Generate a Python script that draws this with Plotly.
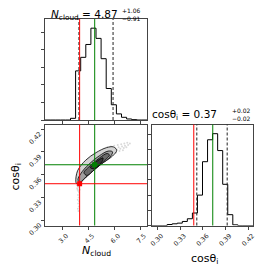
import numpy as np
import plotly.graph_objects as go

# ---------------- data ----------------
n_range = [2.0, 7.89]
c_range = [0.293, 0.426]
n_bins = 20
c_bins = 20
n_counts = [0, 0, 0, 0, 0, 48, 1402, 1789, 2156, 2621, 2330, 1750, 899, 435, 174, 77, 29, 10, 0, 0]
c_counts = [0, 0, 0, 33, 56, 78, 133, 222, 411, 1000, 2100, 2822, 3022, 2466, 1356, 356, 22, 0, 0, 0]

n_truth, n_med, n_lo, n_hi = 4.0, 4.87, 3.96, 5.93
c_truth, c_med, c_lo, c_hi = 0.348, 0.373, 0.352, 0.392

n_ticks = [3.0, 4.5, 6.0, 7.5]
n_ticktext = ["3.0", "4.5", "6.0", "7.5"]
c_ticks = [0.30, 0.33, 0.36, 0.39, 0.42]
c_ticktext = ["0.30", "0.33", "0.36", "0.39", "0.42"]

# density contours (outer -> inner)
cont1_x = [3.83, 3.78, 3.88, 4.35, 4.95, 5.55, 5.95, 6.14, 5.90, 5.20, 4.62, 4.15, 3.98]
cont1_y = [0.3480, 0.3505, 0.3650, 0.3790, 0.3890, 0.3955, 0.3965, 0.3920, 0.3845, 0.3730, 0.3620, 0.3515, 0.3475]
cont2_x = [3.90, 4.15, 4.65, 5.15, 5.65, 5.90, 5.75, 5.28, 4.78, 4.30, 4.02]
cont2_y = [0.3530, 0.3640, 0.3760, 0.3850, 0.3910, 0.3900, 0.3830, 0.3745, 0.3650, 0.3555, 0.3500]
cont3_x = [4.25, 4.65, 5.15, 5.58, 5.72, 5.40, 4.90, 4.42]
cont3_y = [0.3625, 0.3725, 0.3820, 0.3878, 0.3858, 0.3780, 0.3680, 0.3590]
cont4_x = [4.62, 5.05, 5.35, 5.30, 4.85]
cont4_y = [0.3690, 0.3785, 0.3820, 0.3775, 0.3680]
cont_fill = ["#d4d4d4", "#a0a0a0", "#6a6a6a", "#353535"]

# loose samples outside the outer contour
pts_x = [3.90, 3.95, 3.88, 3.93, 3.97, 3.91, 3.94, 3.89, 3.96, 3.92, 3.95, 3.90, 3.93, 3.86, 4.00, 3.84,
         6.05, 6.15, 6.25, 6.35, 6.45, 6.55, 6.62, 6.70, 6.80, 6.90, 6.20, 6.40, 6.10, 6.30, 6.50, 6.00,
         5.80, 5.60, 6.75, 6.58]
pts_y = [0.345, 0.343, 0.340, 0.338, 0.336, 0.333, 0.330, 0.327, 0.325, 0.322, 0.318, 0.315, 0.312, 0.342, 0.340, 0.346,
         0.395, 0.393, 0.396, 0.394, 0.397, 0.395, 0.398, 0.396, 0.399, 0.401, 0.399, 0.400, 0.389, 0.391, 0.392, 0.398,
         0.397, 0.396, 0.402, 0.401]

RED = "#ff0000"
GREEN = "#008000"
FRAME = "#444444"
FONT = "DejaVu Sans"
# the page body has an 8px margin, so the figure is sized to the visible area
OFF = 8
W, H = 266 - OFF, 272 - OFF


def px(v):
    return (v - OFF) / W


def py(v):
    return 1 - (v - OFF) / H


def step_xy(edges, counts):
    xs = [edges[0]] + list(edges)
    ys = [0] + list(counts) + [0]
    return xs, ys


fig = go.Figure()

# top-left histogram
n_edges = np.linspace(n_range[0], n_range[1], n_bins + 1)
sx, sy = step_xy(n_edges, n_counts)
fig.add_trace(go.Scatter(x=sx, y=sy, mode="lines", line=dict(color="black", width=1, shape="hv"),
                         xaxis="x", yaxis="y", showlegend=False, hoverinfo="skip"))
# bottom-right histogram
c_edges = np.linspace(c_range[0], c_range[1], c_bins + 1)
sx, sy = step_xy(c_edges, c_counts)
fig.add_trace(go.Scatter(x=sx, y=sy, mode="lines", line=dict(color="black", width=1, shape="hv"),
                         xaxis="x3", yaxis="y3", showlegend=False, hoverinfo="skip"))

# 2D: samples
fig.add_trace(go.Scatter(x=pts_x, y=pts_y, mode="markers",
                         marker=dict(color="rgba(0,0,0,0.15)", size=2),
                         xaxis="x2", yaxis="y2", showlegend=False, hoverinfo="skip"))
# 2D: contours
for cx, cy, col in zip([cont1_x, cont2_x, cont3_x, cont4_x], [cont1_y, cont2_y, cont3_y, cont4_y], cont_fill):
    fig.add_trace(go.Scatter(x=cx + [cx[0]], y=cy + [cy[0]], mode="lines", fill="toself",
                             fillcolor=col, line=dict(color="black", width=0.8, shape="spline"),
                             xaxis="x2", yaxis="y2", showlegend=False, hoverinfo="skip"))

DASH = "3px,2px"


def vline(x, xref, yref, color, dash="solid"):
    fig.add_shape(type="line", x0=x, x1=x, y0=0, y1=1, xref=xref, yref=yref + " domain",
                  line=dict(color=color, width=1, dash=dash))


def hline(y, xref, yref, color):
    fig.add_shape(type="line", y0=y, y1=y, x0=0, x1=1, yref=yref, xref=xref + " domain",
                  line=dict(color=color, width=1))


vline(n_lo, "x", "y", "#222222", DASH)
vline(n_hi, "x", "y", "#222222", DASH)
vline(n_truth, "x", "y", RED)
vline(n_med, "x", "y", GREEN)

vline(c_lo, "x3", "y3", "#222222", DASH)
vline(c_hi, "x3", "y3", "#222222", DASH)
vline(c_truth, "x3", "y3", RED)
vline(c_med, "x3", "y3", GREEN)

vline(n_truth, "x2", "y2", RED)
vline(n_med, "x2", "y2", GREEN)
hline(c_truth, "x2", "y2", RED)
hline(c_med, "x2", "y2", GREEN)

fig.add_trace(go.Scatter(x=[n_truth], y=[c_truth], mode="markers",
                         marker=dict(color=RED, size=5, symbol="square"),
                         xaxis="x2", yaxis="y2", showlegend=False, hoverinfo="skip"))
fig.add_trace(go.Scatter(x=[n_med], y=[c_med], mode="markers",
                         marker=dict(color=GREEN, size=5, symbol="square"),
                         xaxis="x2", yaxis="y2", showlegend=False, hoverinfo="skip"))

axis_common = dict(showline=True, linecolor=FRAME, linewidth=1, mirror=True, showgrid=False,
                   zeroline=False, ticks="outside", ticklen=3, tickwidth=1, tickcolor=FRAME,
                   automargin=False,
                   tickfont=dict(family=FONT, size=6.5, color="#222222"))

xl = [px(45), px(147)]
xr = [px(152), px(253)]
yt = [py(120), py(19)]
yb = [py(225.5), py(124.5)]

fig.update_layout(
    template="none",
    width=W, height=H, margin=dict(l=0, r=0, t=0, b=0, pad=0),
    paper_bgcolor="white", plot_bgcolor="white",
    xaxis=dict(domain=xl, range=n_range, anchor="y", tickvals=n_ticks, showticklabels=False, **axis_common),
    yaxis=dict(domain=yt, range=[0, max(n_counts) * 1.1], anchor="x", dtick=500, showticklabels=False, **axis_common),
    xaxis2=dict(domain=xl, range=n_range, anchor="y2", tickvals=n_ticks, ticktext=n_ticktext,
                tickangle=-45, ticklabelshift=4, **axis_common),
    yaxis2=dict(domain=yb, range=c_range, anchor="x2", tickvals=c_ticks, ticktext=c_ticktext,
                tickangle=-45, ticklabelshift=4, **axis_common),
    xaxis3=dict(domain=xr, range=c_range, anchor="y3", tickvals=c_ticks, ticktext=c_ticktext,
                tickangle=-45, ticklabelshift=4, **axis_common),
    yaxis3=dict(domain=yb, range=[0, max(c_counts) * 1.1], anchor="x3", dtick=500, showticklabels=False, **axis_common),
)


def ann(text, x, y, size, xanchor="center", yanchor="middle", angle=0):
    fig.add_annotation(text=text, x=x, y=y, xref="paper", yref="paper", showarrow=False,
                       xanchor=xanchor, yanchor=yanchor, textangle=angle,
                       font=dict(family=FONT, size=size, color="black"), borderpad=0)


# titles (top one kept inside the visible page area)
ann("<i>N</i><sub>cloud</sub> = 4.87", px(50), py(14.5), 10.5, xanchor="left")
ann("+1.06", px(121), py(11), 6, xanchor="left")
ann("−0.91", px(121), py(18.5), 6, xanchor="left")
ann("cosθ<sub>i</sub> = 0.37", px(151), py(115), 10.5, xanchor="left")
ann("+0.02", px(231), py(110), 6, xanchor="left")
ann("−0.02", px(231), py(118), 6, xanchor="left")

# axis labels
ann("<i>N</i><sub>cloud</sub>", px(96), py(251), 11)
ann("cosθ<sub>i</sub>", px(204), py(259), 11)
ann("cosθ<sub>i</sub>", px(15.5), py(177), 11, angle=-90)

fig.write_html("out.html")
